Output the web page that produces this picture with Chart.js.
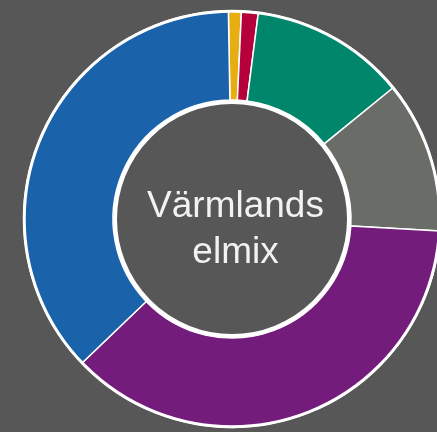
<!DOCTYPE html>
<html>
<head>
<meta charset="utf-8">
<script src="https://cdn.jsdelivr.net/npm/chart.js@4"></script>
<style>
    html, body { margin: 0; padding: 0; background: #575757; overflow: hidden; }
    #wrap { position: absolute; left: 0; top: 0; width: 464px; height: 438px; }
</style>
</head>
<body>
<div id="wrap"><canvas id="chart-mix"></canvas></div>
<script>
// Värmlands elmix, andelar i procent
const labels = ["Sol", "Fossilt", "Vind", "Kraftvärme", "Kärnkraft", "Vattenkraft"];
const values = [1.0, 1.3, 12.1, 11.8, 36.9, 36.9];
const colors = ["#e6ae10", "#b5003c", "#00866a", "#696c67", "#741c7b", "#1a63ab"];
const centerText = ["Värmlands", "elmix"];

const bg = "#575757";

const ringPlugin = {
    id: "ring",
    afterDatasetsDraw(chart) {
        const arc = chart.getDatasetMeta(0).data[0];
        if (!arc) return;
        const { x, y, outerRadius, innerRadius } = arc.getProps(["x", "y", "outerRadius", "innerRadius"], true);
        const ctx = chart.ctx;
        ctx.save();
        // yttre vit kant
        ctx.beginPath();
        ctx.arc(x, y, outerRadius - 0.5, 0, Math.PI * 2);
        ctx.lineWidth = 3;
        ctx.strokeStyle = "#ffffff";
        ctx.stroke();
        // inre cirkel
        ctx.beginPath();
        ctx.arc(x, y, innerRadius - 2, 0, Math.PI * 2);
        ctx.fillStyle = bg;
        ctx.fill();
        ctx.lineWidth = 4;
        ctx.strokeStyle = "#ffffff";
        ctx.stroke();
        // text i mitten
        ctx.fillStyle = "#f2f2f2";
        ctx.font = "37px 'Liberation Sans', Arial, sans-serif";
        ctx.textAlign = "center";
        ctx.textBaseline = "alphabetic";
        ctx.fillText(centerText[0], x + 3.5, y - 2);
        ctx.fillText(centerText[1], x + 3.5, y + 44);
        ctx.restore();
    }
};

new Chart(document.getElementById("chart-mix"), {
    type: "doughnut",
    data: {
        labels: labels,
        datasets: [{
            data: values,
            backgroundColor: colors,
            borderColor: "#ffffff",
            borderWidth: 1.5
        }]
    },
    options: {
        responsive: true,
        maintainAspectRatio: false,
        animation: false,
        rotation: -1,
        cutout: 119,
        layout: { padding: 10 },
        plugins: { legend: { display: false }, tooltip: { enabled: false } }
    },
    plugins: [ringPlugin]
});
</script>
</body>
</html>
